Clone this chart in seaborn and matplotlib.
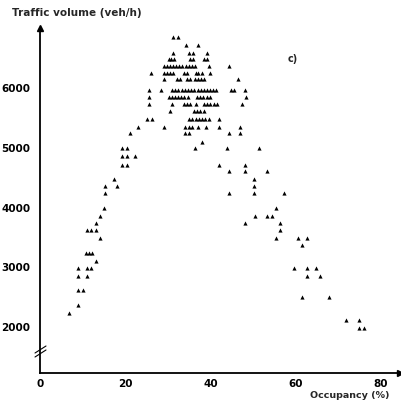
import numpy as np
import pandas as pd
import matplotlib
matplotlib.use("Agg")
import matplotlib.pyplot as plt
import seaborn as sns

# ---- data (one list of occupancies per volume row) ----
row_volume = [6863, 6724, 6595, 6484, 6372, 6260, 6149, 5970, 5858, 5735,
              5623, 5479, 5355, 5244, 5104, 4993, 4864, 4714, 4618, 4474,
              4362, 4239, 3988, 3859, 3737, 3625, 3496, 3374, 3245, 3111,
              2983, 2854, 2620, 2497, 2369, 2240, 2117, 1988]

row_occupancy = [
    [31.2, 32.4],
    [34.3, 37.2],
    [31.2, 35.0, 35.8, 39.2],
    [30.2, 30.8, 31.5, 35.1, 35.9, 38.4, 39.2],
    [29.0, 29.7, 30.5, 31.2, 32.0, 32.7, 33.4, 34.2, 34.9, 35.7, 36.4, 39.6, 44.3],
    [26.0, 29.0, 29.7, 30.5, 31.2, 33.7, 34.5, 36.5, 37.2, 38.0, 40.0],
    [29.0, 32.1, 32.9, 34.5, 35.3, 36.3, 37.0, 37.8, 38.6, 46.4],
    [25.5, 28.4, 31.0, 31.8, 32.5, 33.3, 34.0, 34.7, 35.5, 36.2, 37.0, 37.7,
     38.4, 39.2, 39.9, 40.7, 41.4, 44.9, 45.6, 48.2],
    [25.5, 30.2, 30.9, 31.7, 32.4, 33.2, 33.9, 34.7, 36.9, 37.6, 38.3, 39.1, 39.8, 48.4],
    [25.5, 31.1, 33.7, 34.5, 35.3, 36.7, 38.4, 39.2, 40.0, 40.8, 41.6, 47.4],
    [30.4, 36.1, 36.9, 37.6, 38.4],
    [25.1, 26.3, 34.9, 35.7, 36.5, 37.3, 38.0, 38.8, 39.6, 41.9],
    [23.0, 29.0, 34.1, 34.9, 35.7, 37.2, 39.0, 41.9, 47.0],
    [21.2, 34.1, 34.9, 44.3, 47.0],
    [38.0],
    [19.2, 20.4, 36.3, 43.9, 51.4],
    [19.2, 20.4, 22.2],
    [19.2, 20.4, 41.9, 48.2],
    [44.3, 48.2, 53.3],
    [17.3, 50.2],
    [15.3, 18.0, 50.2],
    [15.3, 44.3, 50.2, 57.2],
    [15.1, 55.5],
    [14.1, 50.4, 53.2, 54.4],
    [13.2, 48.2, 56.3],
    [11.1, 11.9, 13.2, 56.3],
    [14.1, 55.5, 60.6, 62.6],
    [61.6],
    [10.8, 11.4, 12.2],
    [13.2],
    [9.0, 11.1, 11.9, 59.6, 62.6, 64.7],
    [9.0, 11.1, 62.6, 65.7],
    [9.0, 10.0],
    [61.6, 67.8],
    [9.0],
    [6.9],
    [71.8, 74.9],
    [74.9, 76.1],
]

x_ticks = [0, 20, 40, 60, 80]
y_ticks = [2000, 3000, 4000, 5000, 6000]

occ, vol = [], []
for v, occs in zip(row_volume, row_occupancy):
    for o in occs:
        occ.append(o)
        vol.append(v)
df = pd.DataFrame({"Occupancy": occ, "Volume": vol})

sns.set_style("white")
plt.rcParams["font.family"] = ["DejaVu Sans"]

W, H = 402, 401
fig = plt.figure(figsize=(W / 100, H / 100), dpi=100)
ax_left, ax_right, ax_top, ax_bottom = 40, 400, 28, 373
ax = fig.add_axes([ax_left / W, 1 - ax_bottom / H,
                   (ax_right - ax_left) / W, (ax_bottom - ax_top) / H])

sns.scatterplot(data=df, x="Occupancy", y="Volume", marker="^", s=9,
                color="black", linewidth=0, ax=ax, legend=False)

ax.set_xlim(0, 84.5)
ax.set_ylim(1229, 7008)
ax.set_xlabel("")
ax.set_ylabel("")
ax.set_xticks(x_ticks)
ax.set_yticks(y_ticks)
ax.set_xticklabels([str(t) for t in x_ticks], fontsize=7.5, fontweight="bold")
ax.set_yticklabels([str(t) for t in y_ticks], fontsize=7.5, fontweight="bold")
ax.tick_params(axis="y", direction="out", length=3, width=1, pad=4, colors="black")
ax.tick_params(axis="x", direction="in", length=3, width=1, pad=4, colors="black")

for s in ["top", "right"]:
    ax.spines[s].set_visible(False)
for s in ["left", "bottom"]:
    ax.spines[s].set_linewidth(1.3)
    ax.spines[s].set_color("black")

# axis arrows
ax.plot(0, 1, marker="^", ms=4, color="black", transform=ax.transAxes, clip_on=False)
ax.plot(1, 0, marker=">", ms=4, color="black", transform=ax.transAxes, clip_on=False)

# axis break symbol on the y-axis
aw, ah = ax_right - ax_left, ax_bottom - ax_top
def axpt(px, py):
    return (px - ax_left) / aw, (ax_bottom - py) / ah
xa, ya = axpt(40, 350)
ax.plot([xa, xa], [ya - 0.008, ya + 0.008], color="white", lw=2.5,
        transform=ax.transAxes, clip_on=False)
for dy in (0, 4):
    p0 = axpt(35, 353 + dy)
    p1 = axpt(46, 346 + dy)
    ax.plot([p0[0], p1[0]], [p0[1], p1[1]], color="black", lw=0.8,
            transform=ax.transAxes, clip_on=False)

fig.text(12 / W, 1 - 13 / H, "Traffic volume (veh/h)", fontsize=7.5,
         fontweight="bold", ha="left", va="center")
fig.text(293 / W, 1 - 59 / H, "c)", fontsize=7, fontweight="bold",
         ha="center", va="center")
fig.text(310 / W, 1 - 395 / H, "Occupancy (%)", fontsize=6.8,
         fontweight="bold", ha="left", va="center")

fig.savefig("out.png", dpi=100)
